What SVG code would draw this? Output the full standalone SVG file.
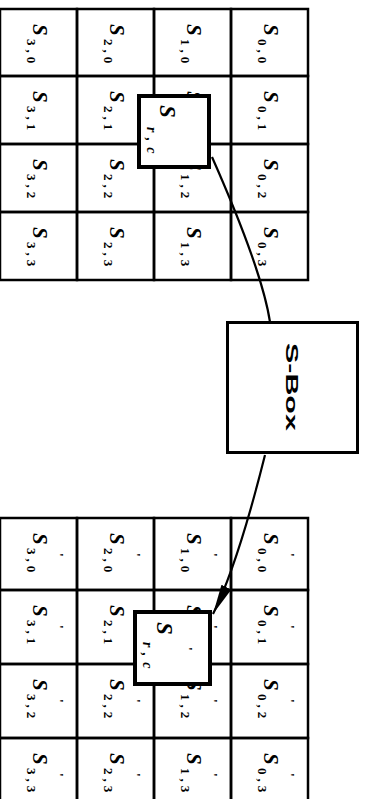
<svg xmlns="http://www.w3.org/2000/svg" width="369" height="799" viewBox="0 0 369 799">
<style>
.cell{fill:none;stroke:#000;stroke-width:2.5}
.s{font-family:"Liberation Serif",serif;font-style:italic;font-weight:bold;font-size:21px;fill:#000}
.sub{font-style:normal;font-weight:bold;font-size:13px;letter-spacing:4px}
.pr{font-style:normal;font-weight:bold;font-size:13px}
.box{fill:#fff;stroke:#000;stroke-width:4}
.sc{font-size:23px}
.subc{font-size:14px;letter-spacing:6px}
.conn{fill:none;stroke:#000;stroke-width:2.2}
.lbl{font-family:"Liberation Sans",Arial,sans-serif;font-weight:bold;font-size:16px;fill:#000}
</style>
<defs>
<marker id="ah" markerUnits="userSpaceOnUse" markerWidth="32" markerHeight="12" refX="30" refY="5.5" orient="auto">
<path d="M0,0 L30,5.5 L0,11 z" fill="#000"/>
</marker>
</defs>
<rect width="369" height="799" fill="#fff"/>
<g id="state-in">
<g id="in-0-0"><rect class="cell" x="231" y="9" width="77" height="67"/><text class="s" transform="translate(264,24) rotate(90)">S<tspan class="sub" x="15" y="6">0,0</tspan></text></g>
<g id="in-0-1"><rect class="cell" x="231" y="76" width="77" height="68"/><text class="s" transform="translate(264,91) rotate(90)">S<tspan class="sub" x="15" y="6">0,1</tspan></text></g>
<g id="in-0-2"><rect class="cell" x="231" y="144" width="77" height="68"/><text class="s" transform="translate(264,159) rotate(90)">S<tspan class="sub" x="15" y="6">0,2</tspan></text></g>
<g id="in-0-3"><rect class="cell" x="231" y="212" width="77" height="68"/><text class="s" transform="translate(264,227) rotate(90)">S<tspan class="sub" x="15" y="6">0,3</tspan></text></g>
<g id="in-1-0"><rect class="cell" x="154" y="9" width="77" height="67"/><text class="s" transform="translate(187,24) rotate(90)">S<tspan class="sub" x="15" y="6">1,0</tspan></text></g>
<g id="in-1-1"><rect class="cell" x="154" y="76" width="77" height="68"/><text class="s" transform="translate(187,91) rotate(90)">S<tspan class="sub" x="15" y="6">1,1</tspan></text></g>
<g id="in-1-2"><rect class="cell" x="154" y="144" width="77" height="68"/><text class="s" transform="translate(187,159) rotate(90)">S<tspan class="sub" x="15" y="6">1,2</tspan></text></g>
<g id="in-1-3"><rect class="cell" x="154" y="212" width="77" height="68"/><text class="s" transform="translate(187,227) rotate(90)">S<tspan class="sub" x="15" y="6">1,3</tspan></text></g>
<g id="in-2-0"><rect class="cell" x="77" y="9" width="77" height="67"/><text class="s" transform="translate(110,24) rotate(90)">S<tspan class="sub" x="15" y="6">2,0</tspan></text></g>
<g id="in-2-1"><rect class="cell" x="77" y="76" width="77" height="68"/><text class="s" transform="translate(110,91) rotate(90)">S<tspan class="sub" x="15" y="6">2,1</tspan></text></g>
<g id="in-2-2"><rect class="cell" x="77" y="144" width="77" height="68"/><text class="s" transform="translate(110,159) rotate(90)">S<tspan class="sub" x="15" y="6">2,2</tspan></text></g>
<g id="in-2-3"><rect class="cell" x="77" y="212" width="77" height="68"/><text class="s" transform="translate(110,227) rotate(90)">S<tspan class="sub" x="15" y="6">2,3</tspan></text></g>
<g id="in-3-0"><rect class="cell" x="0" y="9" width="77" height="67"/><text class="s" transform="translate(33,24) rotate(90)">S<tspan class="sub" x="15" y="6">3,0</tspan></text></g>
<g id="in-3-1"><rect class="cell" x="0" y="76" width="77" height="68"/><text class="s" transform="translate(33,91) rotate(90)">S<tspan class="sub" x="15" y="6">3,1</tspan></text></g>
<g id="in-3-2"><rect class="cell" x="0" y="144" width="77" height="68"/><text class="s" transform="translate(33,159) rotate(90)">S<tspan class="sub" x="15" y="6">3,2</tspan></text></g>
<g id="in-3-3"><rect class="cell" x="0" y="212" width="77" height="68"/><text class="s" transform="translate(33,227) rotate(90)">S<tspan class="sub" x="15" y="6">3,3</tspan></text></g>
</g>
<g id="state-out">
<g id="out-0-0"><rect class="cell" x="231" y="518" width="77" height="72"/><text class="s" transform="translate(264,533) rotate(90)">S<tspan class="pr" x="20" y="-22">'</tspan><tspan class="sub" x="15" y="6">0,0</tspan></text></g>
<g id="out-0-1"><rect class="cell" x="231" y="590" width="77" height="74"/><text class="s" transform="translate(264,605) rotate(90)">S<tspan class="pr" x="20" y="-22">'</tspan><tspan class="sub" x="15" y="6">0,1</tspan></text></g>
<g id="out-0-2"><rect class="cell" x="231" y="664" width="77" height="74"/><text class="s" transform="translate(264,679) rotate(90)">S<tspan class="pr" x="20" y="-22">'</tspan><tspan class="sub" x="15" y="6">0,2</tspan></text></g>
<g id="out-0-3"><rect class="cell" x="231" y="738" width="77" height="72"/><text class="s" transform="translate(264,753) rotate(90)">S<tspan class="pr" x="20" y="-22">'</tspan><tspan class="sub" x="15" y="6">0,3</tspan></text></g>
<g id="out-1-0"><rect class="cell" x="154" y="518" width="77" height="72"/><text class="s" transform="translate(187,533) rotate(90)">S<tspan class="pr" x="20" y="-22">'</tspan><tspan class="sub" x="15" y="6">1,0</tspan></text></g>
<g id="out-1-1"><rect class="cell" x="154" y="590" width="77" height="74"/><text class="s" transform="translate(187,605) rotate(90)">S<tspan class="pr" x="20" y="-22">'</tspan><tspan class="sub" x="15" y="6">1,1</tspan></text></g>
<g id="out-1-2"><rect class="cell" x="154" y="664" width="77" height="74"/><text class="s" transform="translate(187,679) rotate(90)">S<tspan class="pr" x="20" y="-22">'</tspan><tspan class="sub" x="15" y="6">1,2</tspan></text></g>
<g id="out-1-3"><rect class="cell" x="154" y="738" width="77" height="72"/><text class="s" transform="translate(187,753) rotate(90)">S<tspan class="pr" x="20" y="-22">'</tspan><tspan class="sub" x="15" y="6">1,3</tspan></text></g>
<g id="out-2-0"><rect class="cell" x="77" y="518" width="77" height="72"/><text class="s" transform="translate(110,533) rotate(90)">S<tspan class="pr" x="20" y="-22">'</tspan><tspan class="sub" x="15" y="6">2,0</tspan></text></g>
<g id="out-2-1"><rect class="cell" x="77" y="590" width="77" height="74"/><text class="s" transform="translate(110,605) rotate(90)">S<tspan class="pr" x="20" y="-22">'</tspan><tspan class="sub" x="15" y="6">2,1</tspan></text></g>
<g id="out-2-2"><rect class="cell" x="77" y="664" width="77" height="74"/><text class="s" transform="translate(110,679) rotate(90)">S<tspan class="pr" x="20" y="-22">'</tspan><tspan class="sub" x="15" y="6">2,2</tspan></text></g>
<g id="out-2-3"><rect class="cell" x="77" y="738" width="77" height="72"/><text class="s" transform="translate(110,753) rotate(90)">S<tspan class="pr" x="20" y="-22">'</tspan><tspan class="sub" x="15" y="6">2,3</tspan></text></g>
<g id="out-3-0"><rect class="cell" x="0" y="518" width="77" height="72"/><text class="s" transform="translate(33,533) rotate(90)">S<tspan class="pr" x="20" y="-22">'</tspan><tspan class="sub" x="15" y="6">3,0</tspan></text></g>
<g id="out-3-1"><rect class="cell" x="0" y="590" width="77" height="74"/><text class="s" transform="translate(33,605) rotate(90)">S<tspan class="pr" x="20" y="-22">'</tspan><tspan class="sub" x="15" y="6">3,1</tspan></text></g>
<g id="out-3-2"><rect class="cell" x="0" y="664" width="77" height="74"/><text class="s" transform="translate(33,679) rotate(90)">S<tspan class="pr" x="20" y="-22">'</tspan><tspan class="sub" x="15" y="6">3,2</tspan></text></g>
<g id="out-3-3"><rect class="cell" x="0" y="738" width="77" height="72"/><text class="s" transform="translate(33,753) rotate(90)">S<tspan class="pr" x="20" y="-22">'</tspan><tspan class="sub" x="15" y="6">3,3</tspan></text></g>
</g>
<g id="connectors">
<path class="conn" d="M212,157 Q262,270 270,322"/>
<path class="conn" d="M265,455 C255,495 235,570 213,614" marker-end="url(#ah)"/>
</g>
<g id="sel-in">
<rect class="box" x="139" y="96" width="70" height="71"/>
<text class="s sc" transform="translate(160,105) rotate(90)">S<tspan class="sub subc" x="22" y="13" style="font-style:italic">r,c</tspan></text>
</g>
<g id="sel-out">
<rect class="box" x="135" y="612" width="75" height="72"/>
<text class="s sc" transform="translate(157,622) rotate(90)">S<tspan class="pr" x="25" y="-27">'</tspan><tspan class="sub subc" x="20" y="14" style="font-style:italic">r,c</tspan></text>
</g>
<g id="sbox">
<rect x="227.5" y="322.5" width="130" height="130" fill="#fff" stroke="#000" stroke-width="3"/>
<text class="lbl" transform="translate(286,343) rotate(90) scale(1.9,1)">S-Box</text>
</g>
</svg>
